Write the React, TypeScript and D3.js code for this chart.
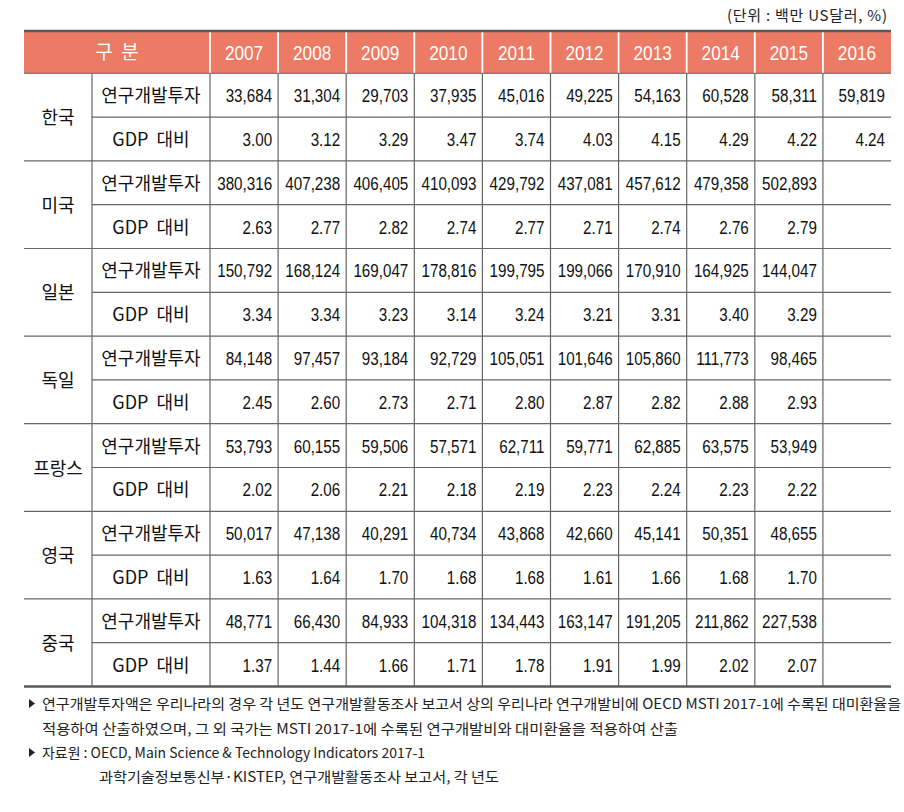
import React from "react";
import * as d3 from "d3";

const years = ["2007", "2008", "2009", "2010", "2011", "2012", "2013", "2014", "2015", "2016"];
const countries = ["한국", "미국", "일본", "독일", "프랑스", "영국", "중국"];
const rowLabels = ["연구개발투자", "GDP 대비"];

const korInvest = [33684, 31304, 29703, 37935, 45016, 49225, 54163, 60528, 58311, 59819];
const korGdp = [3.0, 3.12, 3.29, 3.47, 3.74, 4.03, 4.15, 4.29, 4.22, 4.24];
const usaInvest = [380316, 407238, 406405, 410093, 429792, 437081, 457612, 479358, 502893, null];
const usaGdp = [2.63, 2.77, 2.82, 2.74, 2.77, 2.71, 2.74, 2.76, 2.79, null];
const jpnInvest = [150792, 168124, 169047, 178816, 199795, 199066, 170910, 164925, 144047, null];
const jpnGdp = [3.34, 3.34, 3.23, 3.14, 3.24, 3.21, 3.31, 3.4, 3.29, null];
const deuInvest = [84148, 97457, 93184, 92729, 105051, 101646, 105860, 111773, 98465, null];
const deuGdp = [2.45, 2.6, 2.73, 2.71, 2.8, 2.87, 2.82, 2.88, 2.93, null];
const fraInvest = [53793, 60155, 59506, 57571, 62711, 59771, 62885, 63575, 53949, null];
const fraGdp = [2.02, 2.06, 2.21, 2.18, 2.19, 2.23, 2.24, 2.23, 2.22, null];
const gbrInvest = [50017, 47138, 40291, 40734, 43868, 42660, 45141, 50351, 48655, null];
const gbrGdp = [1.63, 1.64, 1.7, 1.68, 1.68, 1.61, 1.66, 1.68, 1.7, null];
const chnInvest = [48771, 66430, 84933, 104318, 134443, 163147, 191205, 211862, 227538, null];
const chnGdp = [1.37, 1.44, 1.66, 1.71, 1.78, 1.91, 1.99, 2.02, 2.07, null];

const headerLabel = "구  분";
const unitNote = "(단위 : 백만 US달러, %)";
const footnotes = [
  "연구개발투자액은 우리나라의 경우 각 년도 연구개발활동조사 보고서 상의 우리나라 연구개발비에 OECD MSTI 2017-1에 수록된 대미환율을",
  "적용하여 산출하였으며, 그 외 국가는 MSTI 2017-1에 수록된 연구개발비와 대미환율을 적용하여 산출",
  "자료원 : OECD, Main Science & Technology Indicators 2017-1",
  "과학기술정보통신부·KISTEP, 연구개발활동조사 보고서, 각 년도",
];

const seriesByCountry: (number | null)[][][] = [
  [korInvest, korGdp],
  [usaInvest, usaGdp],
  [jpnInvest, jpnGdp],
  [deuInvest, deuGdp],
  [fraInvest, fraGdp],
  [gbrInvest, gbrGdp],
  [chnInvest, chnGdp],
];

const W = 904;
const H = 812;
const left = 24;
const right = 891;
const countryColEnd = 92;
const labelColEnd = 210;
const top = 31;
const headerBottom = 73.3;
const bottom = 686.5;

const fmtInt = d3.format(",");
const fmtDec = d3.format(".2f");

const NUM_FONT = "'Liberation Sans', Arial, sans-serif";
const KR_FONT = "'Noto Sans CJK KR', 'Noto Sans', sans-serif";

export default function App() {
  const x = d3.scaleBand<string>().domain(years).range([labelColEnd, right]);
  const rowKeys = d3.range(countries.length * 2).map(String);
  const y = d3.scaleBand<string>().domain(rowKeys).range([headerBottom, bottom]);
  const rh = y.bandwidth();
  const gridColor = "#666";
  const headerFill = "#ED7A65";

  const cells: React.ReactNode[] = [];
  seriesByCountry.forEach((pair, ci) => {
    pair.forEach((vals, ri) => {
      const key = String(ci * 2 + ri);
      const yc = (y(key) as number) + rh / 2;
      vals.forEach((v, yi) => {
        if (v === null || v === undefined) return;
        const xr = (x(years[yi]) as number) + x.bandwidth() - 6;
        const txt = ri === 0 ? fmtInt(v) : fmtDec(v);
        cells.push(
          <text
            key={`c${ci}-${ri}-${yi}`}
            transform={`translate(${xr},${yc + 7}) scale(0.8,1)`}
            textAnchor="end"
            fontFamily={NUM_FONT}
            fontSize={19}
            fill="#111"
          >
            {txt}
          </text>
        );
      });
    });
  });

  return (
    <svg width={W} height={H} style={{ position: "absolute", left: 0, top: 0, background: "#fff" }}>
      {/* unit note */}
      <text x={887} y={21} textAnchor="end" fontFamily={KR_FONT} fontSize={15} fill="#222"
        textLength={160} lengthAdjust="spacing" style={{ whiteSpace: "pre" }}>
        {unitNote}
      </text>

      {/* header */}
      <rect x={left} y={top} width={right - left} height={headerBottom - top} fill={headerFill} />
      {years.map((yr) => (
        <line
          key={`hs${yr}`}
          x1={x(yr) as number}
          x2={x(yr) as number}
          y1={top}
          y2={headerBottom}
          stroke="#fff"
          strokeWidth={1.8}
        />
      ))}
      <text
        x={(left + labelColEnd) / 2}
        y={(top + headerBottom) / 2 + 7}
        textAnchor="middle"
        fontFamily={KR_FONT}
        fontSize={19}
        fill="#fff"
        style={{ whiteSpace: "pre" }}
      >
        {headerLabel}
      </text>
      {years.map((yr) => (
        <text
          key={`hy${yr}`}
          transform={`translate(${(x(yr) as number) + x.bandwidth() / 2},${(top + headerBottom) / 2 + 7.5}) scale(0.84,1)`}
          textAnchor="middle"
          fontFamily={NUM_FONT}
          fontSize={20.5}
          fill="#fff"
        >
          {yr}
        </text>
      ))}

      {/* grid lines */}
      {rowKeys.map((k, i) => {
        if (i === 0) return null;
        const yy = y(k) as number;
        const isGroup = i % 2 === 0;
        return (
          <line
            key={`h${k}`}
            x1={isGroup ? left : countryColEnd}
            x2={right}
            y1={yy}
            y2={yy}
            stroke={gridColor}
            strokeWidth={1.2}
          />
        );
      })}
      {[countryColEnd, labelColEnd, ...years.slice(1).map((yr) => x(yr) as number)].map((xx, i) => (
        <line key={`v${i}`} x1={xx} x2={xx} y1={headerBottom} y2={bottom} stroke={gridColor} strokeWidth={1.2} />
      ))}
      <line x1={left} x2={right} y1={headerBottom} y2={headerBottom} stroke={gridColor} strokeWidth={1} />
      <line x1={left} x2={right} y1={top} y2={top} stroke="#5a5a5a" strokeWidth={2.4} />
      <line x1={left} x2={right} y1={bottom} y2={bottom} stroke="#5a5a5a" strokeWidth={2.4} />

      {/* country labels */}
      {countries.map((c, ci) => {
        const yc = (y(String(ci * 2)) as number) + rh;
        return (
          <text
            key={`cn${c}`}
            x={(left + countryColEnd) / 2}
            y={yc + 7}
            textAnchor="middle"
            fontFamily={KR_FONT}
            fontSize={18}
            fill="#111"
          >
            {c}
          </text>
        );
      })}

      {/* row labels */}
      {rowKeys.map((k, i) => (
        <text
          key={`rl${k}`}
          x={(countryColEnd + labelColEnd) / 2}
          y={(y(k) as number) + rh / 2 + 7}
          textAnchor="middle"
          fontFamily={KR_FONT}
          fontSize={18}
          fill="#111"
          style={{ whiteSpace: "pre" }}
        >
          {i % 2 === 0 ? rowLabels[0] : rowLabels[1].replace(" ", "  ")}
        </text>
      ))}

      {cells}

      {/* footnotes */}
      <path d="M29,699 L35,703.5 L29,708 Z" fill="#222" />
      <text x={42} y={709} fontFamily={KR_FONT} fontSize={14} fill="#222" textLength={859} lengthAdjust="spacingAndGlyphs">
        {footnotes[0]}
      </text>
      <text x={42} y={734} fontFamily={KR_FONT} fontSize={14} fill="#222" textLength={636} lengthAdjust="spacingAndGlyphs">
        {footnotes[1]}
      </text>
      <path d="M29,748 L35,752.5 L29,757 Z" fill="#222" />
      <text x={42} y={758} fontFamily={KR_FONT} fontSize={14} fill="#222" textLength={383} lengthAdjust="spacingAndGlyphs">
        {footnotes[2]}
      </text>
      <text x={99} y={782} fontFamily={KR_FONT} fontSize={14} fill="#222" textLength={400} lengthAdjust="spacingAndGlyphs">
        {footnotes[3]}
      </text>
    </svg>
  );
}
